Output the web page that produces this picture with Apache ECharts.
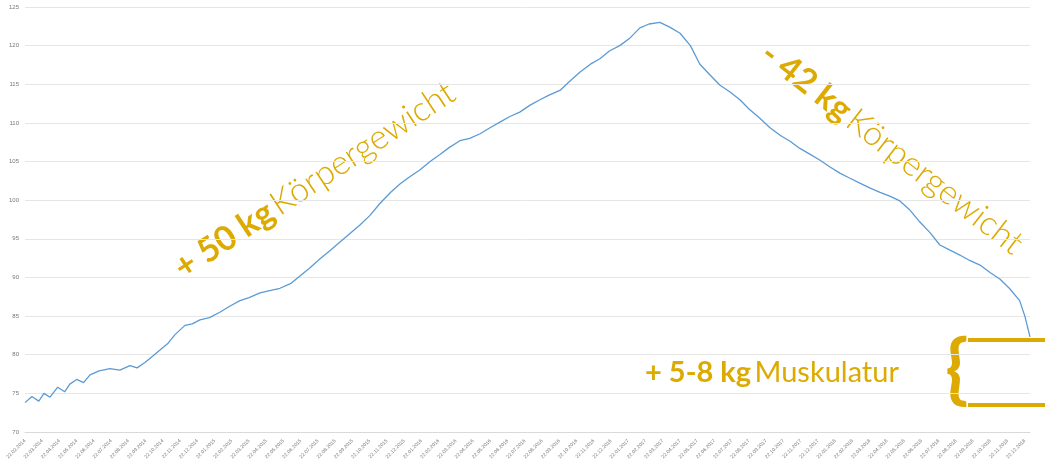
<!DOCTYPE html><html><head><meta charset="utf-8"><script src="https://cdn.jsdelivr.net/npm/echarts@6/dist/echarts.min.js"></script>
<style>html,body{margin:0;background:#fff}#c{width:1060px;height:466px}</style></head><body><div id="c"></div><script>
// month index (0 = 22.02.2014) and weight in kg
const monthIdx=[0,0.4,0.8,1.1,1.45,1.9,2.3,2.6,3.0,3.4,3.77,4.3,4.93,5.5,6.09,6.5,6.96,7.4,7.83,8.3,8.7,9.28,9.7,10.15,10.7,11.3,11.9,12.47,13.0,13.63,14.2,14.79,15.4,15.95,16.5,17.1,17.7,18.27,18.8,19.43,20.0,20.6,21.2,21.75,22.3,22.9,23.5,24.07,24.6,25.23,25.8,26.4,27.0,27.55,28.1,28.7,29.3,29.87,30.4,31.03,31.6,32.2,32.8,33.35,33.9,34.5,35.1,35.67,36.2,36.83,37.4,38.0,38.6,39.15,39.7,40.3,40.9,41.47,42.0,42.63,43.2,43.8,44.4,44.95,45.5,46.1,46.7,47.27,47.8,48.43,49.0,49.6,50.2,50.75,51.3,51.9,52.5,53.07,53.6,54.23,54.8,55.4,56.0,56.55,57.1,57.7,58.0,58.3];
const weight=[73.8,74.6,74.0,75.0,74.5,75.8,75.2,76.2,76.8,76.4,77.4,77.9,78.2,78.0,78.6,78.3,79.0,79.8,80.6,81.5,82.6,83.8,84.0,84.5,84.8,85.5,86.3,87.0,87.4,88.0,88.3,88.6,89.2,90.2,91.2,92.4,93.5,94.6,95.6,96.8,98.0,99.6,101.0,102.1,103.0,103.9,105.0,105.9,106.8,107.7,108.0,108.6,109.4,110.1,110.8,111.4,112.3,113.0,113.6,114.2,115.4,116.6,117.6,118.3,119.3,120.0,121.0,122.3,122.8,123.0,122.4,121.6,120.0,117.6,116.3,114.9,114.0,113.0,111.8,110.6,109.4,108.4,107.6,106.7,106.0,105.2,104.3,103.5,102.9,102.2,101.6,101.0,100.5,99.9,98.8,97.2,95.8,94.2,93.6,92.9,92.2,91.6,90.6,89.8,88.6,87.0,85.0,82.3];
const yTicks=[70,75,80,85,90,95,100,105,110,115,120,125];
const monthLabels=[];for(let i=0;i<59;i++){const m=(1+i)%12+1,y=2014+Math.floor((1+i)/12);monthLabels.push('22.'+String(m).padStart(2,'0')+'.'+y);}
const gold='#dcaa00';
const ch=echarts.init(document.getElementById('c'));
ch.setOption({animation:false,
grid:{left:25,right:30,top:7,bottom:34},
xAxis:{type:'value',min:0,max:58.3,interval:1,axisLine:{lineStyle:{color:'#d9d9d9'}},axisTick:{show:false},splitLine:{show:false},
 axisLabel:{rotate:45,fontSize:5,color:'#777',formatter:v=>monthLabels[Math.round(v)]||''}},
yAxis:{type:'value',min:70,max:125,interval:5,axisLine:{show:false},axisTick:{show:false},splitLine:{lineStyle:{color:'#e6e6e6'}},axisLabel:{fontSize:6,color:'#777',margin:6}},
series:[{type:'line',data:monthIdx.map((x,i)=>[x,weight[i]]),showSymbol:false,lineStyle:{color:'#5b9bd5',width:1.3}}],
graphic:[
 {type:'text',x:187,y:285,rotation:0.585,originX:0,originY:0,style:{text:'{b|+ 50 kg} {l|Körpergewicht}',rich:{b:{fontFamily:'Lato',fontWeight:'bold',fontSize:34,fill:gold},l:{fontFamily:'Lato',fontWeight:300,fontSize:34,fill:gold}},textVerticalAlign:'bottom'}},
 {type:'text',x:765,y:50,rotation:-0.66,originX:0,originY:0,style:{text:'{b|- 42 kg} {l|Körpergewicht}',rich:{b:{fontFamily:'Lato',fontWeight:'bold',fontSize:34,fill:gold},l:{fontFamily:'Lato',fontWeight:300,fontSize:34,fill:gold}},textVerticalAlign:'middle'}},
 {type:'text',x:645,y:373,style:{text:'{b|+ 5-8 kg} {l|Muskulatur}',rich:{b:{fontFamily:'Lato',fontWeight:'bold',fontSize:29,fill:gold},l:{fontFamily:'Lato',fontWeight:400,fontSize:29,fill:gold}},textVerticalAlign:'middle'}},
 {type:'text',x:957,y:370,style:{text:'{',font:'bold 76px Lato',fill:gold,textAlign:'center',textVerticalAlign:'middle'}},
 {type:'line',shape:{x1:968,y1:340,x2:1045,y2:340},style:{stroke:gold,lineWidth:4}},
 {type:'line',shape:{x1:968,y1:405,x2:1045,y2:405},style:{stroke:gold,lineWidth:4}}
]});
</script></body></html>
